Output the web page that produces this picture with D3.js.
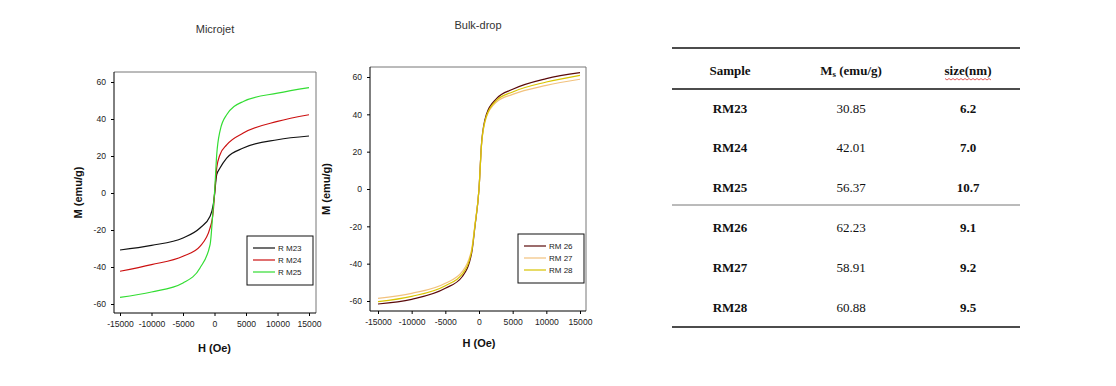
<!DOCTYPE html>
<html>
<head>
<meta charset="utf-8">
<script src="https://cdn.jsdelivr.net/npm/d3@7"></script>
<style>
  body { margin: 0; background: #fff; }
  svg { display: block; }
</style>
</head>
<body>
<div id="chart"></div>
<script>
// field values
const microjetH = [-15000, -10000, -5000, -2300, -700, -200, 0, 350, 870, 1930, 4570, 10000, 15000];
const rm23 = [-30.8, -28.3, -24.3, -18.9, -12.6, -6.3, -1, 9.9, 13.5, 18.9, 24.3, 28.8, 30.8];
const rm24 = [-42.3, -38.7, -34.2, -28.8, -18.9, -9.9, -1, 13.5, 20.7, 26, 32.4, 38.7, 42.3];
const rm25 = [-56.4, -53.5, -48.6, -40.5, -27.9, -8.1, 0, 20.7, 33.5, 42.3, 49.5, 54, 57];

const bulkH = [-15000, -10000, -5000, -2500, -1100, -600, 0, 400, 1100, 2600, 5000, 10000, 15000];
const rm26 = [-61.6, -59.1, -53.2, -47, -34.5, -20, 0, 25.5, 40, 48.4, 53.4, 59.1, 62.3];
const rm27 = [-58.6, -55.9, -50.5, -44.3, -32.5, -19, 0, 24.5, 38.5, 46.6, 50.7, 55.5, 58.8];
const rm28 = [-60.3, -57.5, -51.8, -45.6, -33.5, -19.5, 0, 25, 39, 47.5, 52, 57.3, 60.9];

const xTicks = [-15000, -10000, -5000, 0, 5000, 10000, 15000];
const yTicks = [-60, -40, -20, 0, 20, 40, 60];

// table
const samples = ["RM23", "RM24", "RM25", "RM26", "RM27", "RM28"];
const msValues = ["30.85", "42.01", "56.37", "62.23", "58.91", "60.88"];
const sizes = ["6.2", "7.0", "10.7", "9.1", "9.2", "9.5"];

const svg = d3.select("#chart").append("svg")
  .attr("width", 1116)
  .attr("height", 386);

function drawPanel(opt) {
  let g = svg.append("g");
  let x = d3.scaleLinear().domain([-15000, 15000]).range([opt.x0, opt.x1]);
  let y = d3.scaleLinear().domain([-60, 60]).range([opt.yb, opt.yt]);

  // frame (top + right are grey in the original)
  g.append("line").attr("x1", opt.left).attr("x2", opt.right).attr("y1", opt.top).attr("y2", opt.top)
    .attr("stroke", "#777").attr("stroke-width", 1);
  g.append("line").attr("x1", opt.right).attr("x2", opt.right).attr("y1", opt.top).attr("y2", opt.bottom)
    .attr("stroke", "#777").attr("stroke-width", 1);

  let ax = g.append("g")
    .attr("transform", "translate(0," + opt.bottom + ")")
    .call(d3.axisBottom(x).tickValues(xTicks).tickFormat(d => String(d))
      .tickSize(3).tickPadding(5).tickSizeOuter(0));
  ax.select(".domain").attr("d", "M" + opt.left + ",0H" + opt.right);
  let ay = g.append("g")
    .attr("transform", "translate(" + opt.left + ",0)")
    .call(d3.axisLeft(y).tickValues(yTicks).tickFormat(d => String(d))
      .tickSize(3).tickPadding(5).tickSizeOuter(0));
  ay.select(".domain").attr("d", "M0," + opt.top + "V" + opt.bottom);
  g.selectAll(".tick text").style("font-family", "Arial, 'Liberation Sans', sans-serif")
    .style("font-size", "8.6px").attr("fill", "#222");

  let line = d3.line()
    .x(d => x(d[0]))
    .y(d => y(d[1]))
    .curve(d3.curveMonotoneX);

  opt.series.forEach(s => {
    g.append("path")
      .datum(opt.h.map((h, i) => [h, s.values[i]]))
      .attr("fill", "none")
      .attr("stroke", s.color)
      .attr("stroke-width", 1.2)
      .attr("d", line);
  });

  // titles
  g.append("text")
    .attr("x", opt.titleX).attr("y", opt.titleY)
    .attr("text-anchor", "middle")
    .style("font-family", "Arial, 'Liberation Sans', sans-serif")
    .style("font-size", "11px").attr("fill", "#333")
    .text(opt.title);
  g.append("text")
    .attr("transform", "translate(" + opt.mX + "," + ((opt.top + opt.bottom) / 2) + ") rotate(-90)")
    .attr("text-anchor", "middle")
    .attr("dy", "0.35em")
    .style("font-family", "Arial, 'Liberation Sans', sans-serif")
    .style("font-size", "11px").style("font-weight", "bold").attr("fill", "#111")
    .text("M (emu/g)");
  g.append("text")
    .attr("x", x(0)).attr("y", opt.hY)
    .attr("text-anchor", "middle")
    .attr("dy", "0.35em")
    .style("font-family", "Arial, 'Liberation Sans', sans-serif")
    .style("font-size", "11px").style("font-weight", "bold").attr("fill", "#111")
    .text("H (Oe)");

  // legend
  let lg = g.append("g");
  lg.append("rect")
    .attr("x", opt.leg.x).attr("y", opt.leg.y)
    .attr("width", opt.leg.w).attr("height", opt.leg.h)
    .attr("fill", "#fff").attr("stroke", "#111").attr("stroke-width", 1);
  opt.series.forEach((s, i) => {
    let ry = opt.leg.y + 12 + i * 12;
    lg.append("line")
      .attr("x1", opt.leg.x + opt.leg.lx).attr("x2", opt.leg.x + opt.leg.lx + 22)
      .attr("y1", ry).attr("y2", ry)
      .attr("stroke", s.color).attr("stroke-width", 1.2);
    lg.append("text")
      .attr("x", opt.leg.x + opt.leg.lx + 25).attr("y", ry)
      .attr("dy", "0.35em")
      .style("font-family", "Arial, 'Liberation Sans', sans-serif")
      .style("font-size", "8px").attr("fill", "#222")
      .text(s.name);
  });
}

drawPanel({
  left: 114, right: 316, top: 72, bottom: 313,
  x0: 120, x1: 309, yb: 304, yt: 82,
  h: microjetH,
  series: [
    {name: "R M23", values: rm23, color: "#111111"},
    {name: "R M24", values: rm24, color: "#cc1111"},
    {name: "R M25", values: rm25, color: "#33dd33"}
  ],
  title: "Microjet", titleX: 215, titleY: 33,
  mX: 78, hY: 348,
  leg: {x: 247, y: 236, w: 66, h: 49, lx: 6}
});

drawPanel({
  left: 370, right: 586, top: 67, bottom: 311,
  x0: 378, x1: 580, yb: 301, yt: 77,
  h: bulkH,
  series: [
    {name: "RM 26", values: rm26, color: "#5a0a0a"},
    {name: "RM 27", values: rm27, color: "#f2c27e"},
    {name: "RM 28", values: rm28, color: "#d8c400"}
  ],
  title: "Bulk-drop", titleX: 478, titleY: 29,
  mX: 326, hY: 343,
  leg: {x: 518, y: 234, w: 66, h: 49, lx: 6}
});

// ---- table ----
let colX = [730, 851, 968];
let rowY = d3.scalePoint().domain(samples).range([108, 307]);
let tb = svg.append("g")
  .style("font-family", "'Liberation Serif', 'Times New Roman', serif")
  .style("font-size", "13px")
  .attr("fill", "#111");

tb.append("line").attr("x1", 672).attr("x2", 1020).attr("y1", 48).attr("y2", 48).attr("stroke", "#111").attr("stroke-width", 1.6);
tb.append("line").attr("x1", 672).attr("x2", 1020).attr("y1", 89).attr("y2", 89).attr("stroke", "#111").attr("stroke-width", 1.6);
tb.append("line").attr("x1", 672).attr("x2", 1020).attr("y1", 205).attr("y2", 205).attr("stroke", "#777").attr("stroke-width", 1);
tb.append("line").attr("x1", 672).attr("x2", 1020).attr("y1", 327).attr("y2", 327).attr("stroke", "#111").attr("stroke-width", 1.6);

tb.append("text").attr("x", colX[0]).attr("y", 70).attr("dy", "0.35em")
  .attr("text-anchor", "middle").style("font-weight", "bold").text("Sample");
let ms = tb.append("text").attr("x", colX[1]).attr("y", 70).attr("dy", "0.35em")
  .attr("text-anchor", "middle").style("font-weight", "bold");
ms.append("tspan").text("M");
ms.append("tspan").attr("baseline-shift", "-25%").style("font-size", "9px").text("s");
ms.append("tspan").text(" (emu/g)");
tb.append("text").attr("x", colX[2]).attr("y", 70).attr("dy", "0.35em")
  .attr("text-anchor", "middle").style("font-weight", "bold").text("size(nm)");
// spell-check squiggle under size(nm)
let sq = d3.range(945, 993, 2).map((px, i) => [px, 79 + (i % 2 ? 1 : -0.5)]);
tb.append("path").attr("d", d3.line()(sq)).attr("fill", "none").attr("stroke", "#d33").attr("stroke-width", 0.8);

tb.selectAll(".samp").data(samples).enter().append("text")
  .attr("x", colX[0]).attr("y", d => rowY(d)).attr("dy", "0.35em")
  .attr("text-anchor", "middle").style("font-weight", "bold").text(d => d);
tb.selectAll(".ms").data(msValues).enter().append("text")
  .attr("x", colX[1]).attr("y", (d, i) => rowY(samples[i])).attr("dy", "0.35em")
  .attr("text-anchor", "middle").text(d => d);
tb.selectAll(".sz").data(sizes).enter().append("text")
  .attr("x", colX[2]).attr("y", (d, i) => rowY(samples[i])).attr("dy", "0.35em")
  .attr("text-anchor", "middle").style("font-weight", "bold").text(d => d);
</script>
</body>
</html>
